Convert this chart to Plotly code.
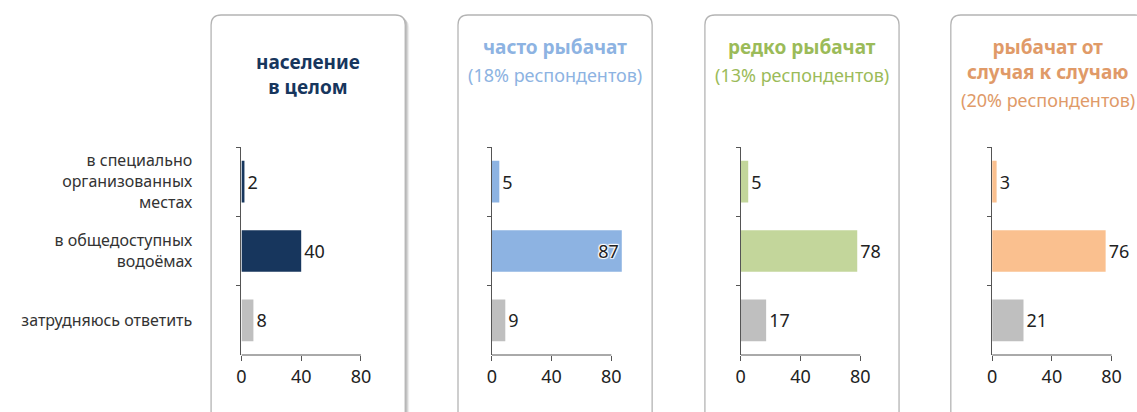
import plotly.graph_objects as go

# ---------------- data ----------------
categories = ["в специально<br>организованных<br>местах",
              "в общедоступных<br>водоёмах",
              "затрудняюсь ответить"]
group_titles = ["население<br>в целом", "часто рыбачат", "редко рыбачат",
                "рыбачат от<br>случая к случаю"]
group_shares = [None, 18, 13, 20]
values_total = [2, 40, 8]
values_often = [5, 87, 9]
values_rarely = [5, 78, 17]
values_occasional = [3, 76, 21]
x_ticks = [0, 40, 80]

# ---------------- style ----------------
W, H = 1137, 412
main_colors = ["#17365d", "#8db3e2", "#c3d69b", "#fac08f"]
title_colors = ["#17365d", "#8db3e2", "#9bbb59", "#e09a68"]
GRAY = "#bfbfbf"
FONT = "Noto Sans"
HALO = "1px 1px 1px white, -1px -1px 1px white, 1px -1px 1px white, -1px 1px 1px white"
series = [values_total, values_often, values_rarely, values_occasional]

def X(px):
    return px / W

def Y(py):
    return 1 - py / H

panel_left = [207, 455, 703, 950]
panel_w = 195
panel_top = 15
panel_bot = 450
axis_zero = [237.5, 489, 739, 991.5]
axis_w = 135          # pixels for range [0, 90]
x_range = [0, 90]
y_top_px, y_bot_px = 147, 355

fig = go.Figure()

def rounded_rect(x0, y0, x1, y1, r):
    return (f"M {X(x0+r)},{Y(y0)} L {X(x1-r)},{Y(y0)} Q {X(x1)},{Y(y0)} {X(x1)},{Y(y0+r)} "
            f"L {X(x1)},{Y(y1-r)} Q {X(x1)},{Y(y1)} {X(x1-r)},{Y(y1)} "
            f"L {X(x0+r)},{Y(y1)} Q {X(x0)},{Y(y1)} {X(x0)},{Y(y1-r)} "
            f"L {X(x0)},{Y(y0+r)} Q {X(x0)},{Y(y0)} {X(x0+r)},{Y(y0)} Z")

shapes = []
annotations = []
for i in range(4):
    x0 = panel_left[i]
    x1 = x0 + panel_w
    if i == 0:
        for k, c in [(4, "rgba(0,0,0,0.06)"), (3, "rgba(0,0,0,0.08)"), (2, "rgba(0,0,0,0.12)")]:
            shapes.append(dict(type="path", path=rounded_rect(x0 + k, panel_top + k - 1, x1 + k, panel_bot + k, 10),
                               xref="paper", yref="paper", fillcolor=c, line=dict(width=0), layer="below"))
    shapes.append(dict(type="path", path=rounded_rect(x0, panel_top, x1, panel_bot, 10),
                       xref="paper", yref="paper", fillcolor="white",
                       line=dict(color="#b4b4b4", width=1.3), layer="below"))

    n = "" if i == 0 else str(i + 1)
    xa, ya = "x" + n, "y" + n
    vals = series[i]
    colors = [main_colors[i], main_colors[i], GRAY]
    positions = ["inside" if v > x_ticks[-1] else "outside" for v in vals]
    fig.add_trace(go.Bar(
        x=vals, y=categories, orientation="h", width=0.6,
        marker=dict(color=colors, line=dict(width=0)),
        text=[str(v) for v in vals], textposition=positions,
        insidetextanchor="end", cliponaxis=False,
        textfont=dict(family=FONT, size=18, color="#222222"),
        insidetextfont=dict(family=FONT, size=18, color="#222222", shadow=HALO),
        outsidetextfont=dict(family=FONT, size=18, color="#222222"),
        xaxis=xa, yaxis=ya, showlegend=False, hoverinfo="skip"))

    z = axis_zero[i]
    fig.layout["xaxis" + n] = dict(
        domain=[X(z), X(z + axis_w)], range=x_range, anchor=ya,
        tickvals=x_ticks, ticks="outside", ticklen=5, tickcolor="#555555",
        showline=False, showgrid=False, zeroline=False,
        tickfont=dict(family=FONT, size=18, color="#222222"), fixedrange=True)
    fig.layout["yaxis" + n] = dict(
        domain=[Y(y_bot_px), Y(y_top_px)], type="category",
        categoryarray=categories, categoryorder="array", range=[2.5, -0.5],
        anchor=xa, showline=True, linecolor="#555555", linewidth=1,
        ticks="outside", tickson="boundaries", ticklen=4, tickcolor="#555555",
        showgrid=False, zeroline=False, showticklabels=(i == 0),
        ticklabelstandoff=45,
        tickfont=dict(family=FONT, size=16, color="#333333"), fixedrange=True)

    shapes.append(dict(type="line", xref=xa, yref="paper", x0=x_ticks[0], x1=x_ticks[-1],
                       y0=Y(y_bot_px), y1=Y(y_bot_px), line=dict(color="#555555", width=1)))

    cx = X(x0 + panel_w / 2)
    if i == 0:
        annotations.append(dict(text="<b>" + group_titles[i] + "</b>", x=cx, y=Y(74), xref="paper", yref="paper",
                                showarrow=False, xanchor="center", yanchor="middle",
                                font=dict(family=FONT, size=19, color=title_colors[i])))
    else:
        nlines = group_titles[i].count("<br>") + 1
        title_y = 47 + (nlines - 1) * 12.5
        annotations.append(dict(text="<b>" + group_titles[i] + "</b>", x=cx, y=Y(title_y), xref="paper", yref="paper",
                                showarrow=False, xanchor="center", yanchor="middle",
                                font=dict(family=FONT, size=19, color=title_colors[i])))
        sub_y = 47 + (nlines - 1) * 25 + 28
        annotations.append(dict(text=f"({group_shares[i]}% респондентов)", x=cx, y=Y(sub_y),
                                xref="paper", yref="paper", showarrow=False,
                                xanchor="center", yanchor="middle",
                                font=dict(family=FONT, size=18, color=title_colors[i])))

fig.update_layout(
    width=W, height=H, margin=dict(l=0, r=0, t=0, b=0),
    paper_bgcolor="white", plot_bgcolor="rgba(0,0,0,0)",
    shapes=shapes, annotations=annotations, bargap=0.4,
    font=dict(family=FONT))

fig.write_html("out.html", config={"displayModeBar": False},
               post_script="document.body.style.margin='0px';")
